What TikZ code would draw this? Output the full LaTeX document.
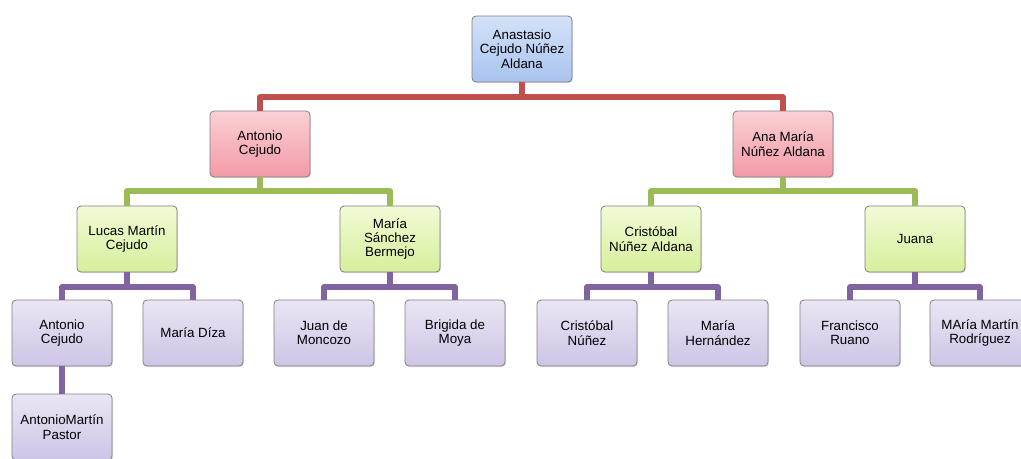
\documentclass[tikz,border=0pt]{standalone}
\usepackage{fontspec}
\setmainfont{Liberation Sans}
\usetikzlibrary{shadows}
\definecolor{bluetop}{HTML}{D3E2F8}
\definecolor{bluebot}{HTML}{A9C3EF}
\definecolor{redtop}{HTML}{FBD0D5}
\definecolor{redbot}{HTML}{F29AA6}
\definecolor{greentop}{HTML}{F1FBD6}
\definecolor{greenbot}{HTML}{D6EF9B}
\definecolor{purptop}{HTML}{EAE5F4}
\definecolor{purpbot}{HTML}{CEC4E6}
\definecolor{redline}{HTML}{C0504D}
\definecolor{greenline}{HTML}{9BBB59}
\definecolor{purpline}{HTML}{8064A2}
\definecolor{boxborder}{HTML}{7F7F7F}
\tikzset{
  box/.style={draw=boxborder, line width=0.6pt, rounded corners=3pt,
    minimum width=75pt, minimum height=49.5pt, align=center,
    font=\fontsize{10}{10.8}\selectfont, inner sep=1pt,
    drop shadow={opacity=0.25, shadow xshift=0.8pt, shadow yshift=-0.8pt}},
  bluebox/.style={box, top color=bluetop, bottom color=bluebot},
  redbox/.style={box, top color=redtop, bottom color=redbot},
  greenbox/.style={box, top color=greentop, bottom color=greenbot},
  purpbox/.style={box, top color=purptop, bottom color=purpbot},
  conn/.style={line width=3.8pt, line join=round},
}
\begin{document}
\begin{tikzpicture}[x=0.75pt, y=-0.75pt]
\useasboundingbox (0,0) rectangle (1021,458);
\coordinate (b0) at (522,97);
\coordinate (b1) at (0,191);
\coordinate (b2) at (0,287);
\node[bluebox] (root) at (522,49) {Anastasio\\Cejudo Núñez\\Aldana};
\node[redbox] (a1) at (260,144) {Antonio\\Cejudo};
\node[redbox] (a2) at (783,144) {Ana María\\Núñez Aldana};
\node[greenbox] (g1) at (127,239) {Lucas Martín\\Cejudo};
\node[greenbox] (g2) at (390,239) {María\\Sánchez\\Bermejo};
\node[greenbox] (g3) at (651,239) {Cristóbal\\Núñez Aldana};
\node[greenbox] (g4) at (915,239) {Juana};
\node[purpbox] (p1) at (62,333) {Antonio\\Cejudo};
\node[purpbox] (p2) at (193,333) {María Díza};
\node[purpbox] (p3) at (324,333) {Juan de\\Moncozo};
\node[purpbox] (p4) at (455,333) {Brigida de\\Moya};
\node[purpbox] (p5) at (587,333) {Cristóbal\\Núñez};
\node[purpbox] (p6) at (718,333) {María\\Hernández};
\node[purpbox] (p7) at (850,333) {Francisco\\Ruano};
\node[purpbox] (p8) at (980,333) {MAría Martín\\Rodríguez};
\node[purpbox] (q1) at (62,427) {AntonioMartín\\Pastor};
% red
\foreach \c in {a1,a2}
  \draw[conn, redline] (root.south) |- (\c.north |- b0) -- (\c.north);
% green
\foreach \c in {g1,g2}
  \draw[conn, greenline] (a1.south) |- (\c.north |- b1) -- (\c.north);
\foreach \c in {g3,g4}
  \draw[conn, greenline] (a2.south) |- (\c.north |- b1) -- (\c.north);
% purple
\foreach \c in {p1,p2}
  \draw[conn, purpline] (g1.south) |- (\c.north |- b2) -- (\c.north);
\foreach \c in {p3,p4}
  \draw[conn, purpline] (g2.south) |- (\c.north |- b2) -- (\c.north);
\foreach \c in {p5,p6}
  \draw[conn, purpline] (g3.south) |- (\c.north |- b2) -- (\c.north);
\foreach \c in {p7,p8}
  \draw[conn, purpline] (g4.south) |- (\c.north |- b2) -- (\c.north);
\draw[conn, purpline] (p1.south) -- (q1.north);
\end{tikzpicture}
\end{document}
